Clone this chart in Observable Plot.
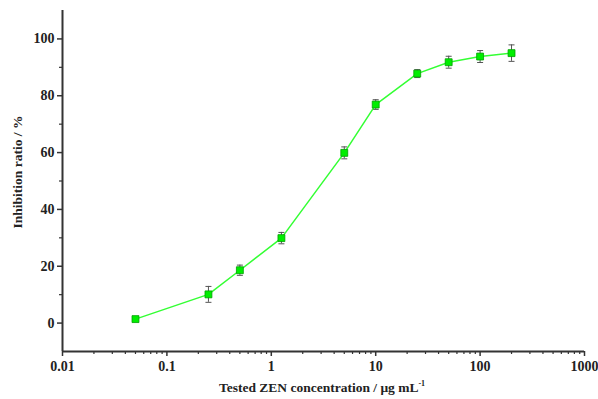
<!DOCTYPE html>
<html>
<head>
<meta charset="utf-8">
<script src="https://cdn.jsdelivr.net/npm/d3@7"></script>
<script src="https://cdn.jsdelivr.net/npm/@observablehq/plot@0.6"></script>
<style>
  html, body { margin: 0; padding: 0; background: #fff; }
  svg text { font-family: "Liberation Serif", "Times New Roman", serif; }
</style>
</head>
<body>
<div id="chart"></div>
<script>
const concentrations = [0.05, 0.25, 0.5, 1.25, 5, 10, 25, 50, 100, 200];
const inhibition = [1.4, 10.1, 18.6, 29.9, 59.9, 76.9, 87.8, 91.8, 93.8, 95.0];
const errors = [0.7, 2.8, 1.8, 2.0, 2.1, 1.7, 1.4, 2.1, 2.1, 2.9];
const xMajorTicks = [0.01, 0.1, 1, 10, 100, 1000];
const yMajorTicks = [0, 20, 40, 60, 80, 100];
const yMinorTicks = [10, 30, 50, 70, 90];
const xTitle = "Tested ZEN concentration / μg mL";
const xTitleSup = "-1";
const yTitle = "Inhibition ratio / %";

const data = concentrations.map((x, i) => ({x, y: inhibition[i], e: errors[i]}));
const xMinorTicks = [];
for (let p = -2; p < 3; p++) for (let k = 2; k <= 9; k++) xMinorTicks.push(k * Math.pow(10, p));

const cap = {draw(ctx, size) { const w = Math.sqrt(size / Math.PI); ctx.moveTo(-w, 0); ctx.lineTo(w, 0); }};
const axisColor = "#333";

const plot = Plot.plot({
  width: 598,
  height: 399,
  marginLeft: 62,
  marginRight: 14,
  marginTop: 10,
  marginBottom: 48,
  style: {fontFamily: "'Liberation Serif', serif", background: "#fff"},
  x: {type: "log", domain: [0.01, 1000]},
  y: {domain: [-10, 110]},
  marks: [
    Plot.axisX(xMinorTicks, {tickSize: 3, tickFormat: () => "", stroke: axisColor, strokeWidth: 1.2, label: null}),
    Plot.axisX(xMajorTicks, {tickSize: 5, tickPadding: 5, tickFormat: d => String(d), stroke: axisColor, strokeWidth: 1.5, fontSize: 14, fontWeight: "bold", fill: "#222", label: null}),
    Plot.axisY(yMinorTicks, {tickSize: 3, tickFormat: () => "", stroke: axisColor, strokeWidth: 1.2, label: null}),
    Plot.axisY(yMajorTicks, {tickSize: 5, tickPadding: 3, stroke: axisColor, strokeWidth: 1.5, fontSize: 14, fontWeight: "bold", fill: "#222", label: null}),
    Plot.ruleX([0.01], {stroke: axisColor, strokeWidth: 2}),
    Plot.ruleY([-10], {stroke: axisColor, strokeWidth: 2}),
    Plot.ruleX(data, {x: "x", y1: d => d.y - d.e, y2: d => d.y + d.e, stroke: "#555", strokeWidth: 1}),
    Plot.dot(data, {x: "x", y: d => d.y + d.e, symbol: cap, r: 3, stroke: "#555", strokeWidth: 1}),
    Plot.dot(data, {x: "x", y: d => d.y - d.e, symbol: cap, r: 3, stroke: "#555", strokeWidth: 1}),
    Plot.line(data, {x: "x", y: "y", stroke: "#33ff33", strokeWidth: 1.5}),
    Plot.dot(data, {x: "x", y: "y", symbol: "square", r: 3.9, fill: "#00ee00", stroke: "#00a000", strokeWidth: 0.8})
  ]
});

const svg = d3.select(plot);
svg.append("text")
  .attr("transform", "translate(22,172) rotate(-90)")
  .attr("text-anchor", "middle")
  .attr("font-family", "'Liberation Serif', serif")
  .attr("font-size", 13.5)
  .attr("font-weight", "bold")
  .attr("fill", "#222")
  .text(yTitle);
const xt = svg.append("text")
  .attr("x", 322)
  .attr("y", 392)
  .attr("text-anchor", "middle")
  .attr("font-family", "'Liberation Serif', serif")
  .attr("font-size", 13.5)
  .attr("font-weight", "bold")
  .attr("fill", "#222");
xt.append("tspan").text(xTitle);
xt.append("tspan").attr("dy", -6).attr("font-size", 8).text(xTitleSup);

document.getElementById("chart").appendChild(plot);
</script>
</body>
</html>
